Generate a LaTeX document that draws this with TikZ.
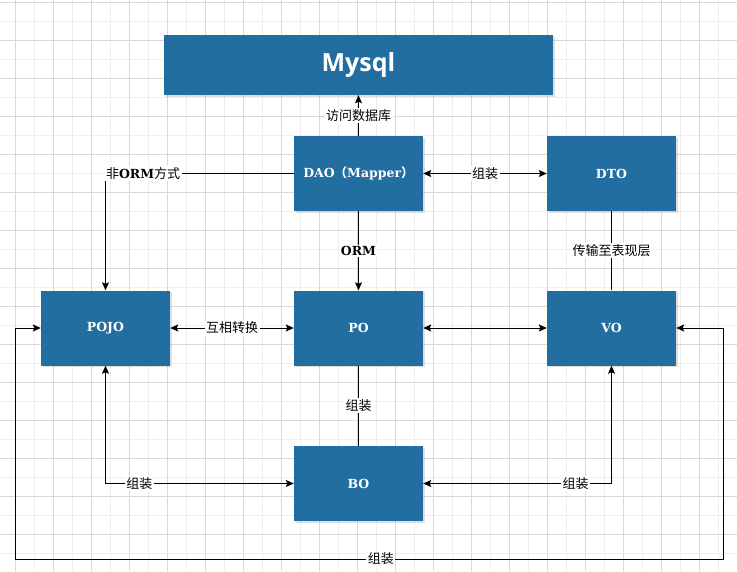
\documentclass[tikz,border=0pt]{standalone}
\usepackage{fontspec}
\newfontfamily\cjk{Noto Sans CJK SC}
\newfontfamily\slab{DejaVu Serif}
\newfontfamily\headfont{Open Sans}
\usetikzlibrary{arrows.meta,shadows}
\definecolor{boxblue}{RGB}{35,110,160}
\definecolor{gridmajor}{RGB}{216,216,216}
\definecolor{gridminor}{RGB}{238,238,238}

\begin{document}
\begin{tikzpicture}[x=1pt,y=-1pt,
    >={Stealth[length=8pt,width=7pt,inset=1.5pt]},
    box/.style={fill=boxblue,text=white,minimum width=129pt,minimum height=75pt,
      font=\slab\bfseries\fontsize{12.5}{14}\selectfont,
      drop shadow={shadow xshift=1.5pt,shadow yshift=-1.5pt,opacity=0.25}},
    lbl/.style={fill=white,inner sep=1.5pt,font=\cjk\fontsize{13}{15}\selectfont},
    link/.style={line width=1pt,draw=black}]
  \useasboundingbox (0,0) rectangle (738,571);
  % grid
  \foreach \x in {-3.7,34.3,...,738} \draw[gridminor] (\x,0) -- (\x,571);
  \foreach \y in {21.3,59.3,...,571} \draw[gridminor] (0,\y) -- (738,\y);
  \foreach \x in {15.3,53.3,...,738} \draw[gridmajor] (\x,0) -- (\x,571);
  \foreach \y in {2.3,40.3,...,571} \draw[gridmajor] (0,\y) -- (738,\y);

  % boxes
  \node[box,minimum width=389pt,minimum height=60pt,
    font=\headfont\bfseries\fontsize{25}{28}\selectfont] (mysql) at (358.5,65) {Mysql};
  \node[box] (dao) at (358.5,173.5) {DAO{\cjk （}Mapper{\cjk ）}};
  \node[box] (dto) at (611.5,173.5) {DTO};
  \node[box] (pojo) at (105.5,328) {POJO};
  \node[box] (po) at (358.5,328) {PO};
  \node[box] (vo) at (611.5,328) {VO};
  \node[box] (bo) at (358.5,483.5) {BO};
  \coordinate (ll) at (15.5,559);
  \coordinate (lr) at (723.8,559);

  % links
  \draw[link,->] (dao) -- node[lbl] {访问数据库} (mysql);
  \draw[link,->] (dao.west) -| node[lbl,pos=0.4] {非{\slab\bfseries\fontsize{12.5}{14}\selectfont ORM}方式} (pojo.north);
  \draw[link,->] (dao) -- node[lbl,font=\slab\bfseries\fontsize{12.5}{14}\selectfont] {ORM} (po);
  \draw[link,<->] (dao) -- node[lbl] {组装} (dto);
  \draw[link] (dto) -- node[lbl] {传输至表现层} (vo);
  \draw[link,<->] (pojo) -- node[lbl] {互相转换} (po);
  \draw[link,<->] (po) -- (vo);
  \draw[link] (po) -- node[lbl] {组装} (bo);
  \draw[link,<->] (pojo.south) |- node[lbl,pos=0.59] {组装} (bo.west);
  \draw[link,<->] (bo.east) -| node[lbl,pos=0.405] {组装} (vo.south);
  \draw[link,<->] (pojo.west) -| (ll) -- node[lbl,pos=0.516] {组装} (lr) |- (vo.east);
\end{tikzpicture}
\end{document}
